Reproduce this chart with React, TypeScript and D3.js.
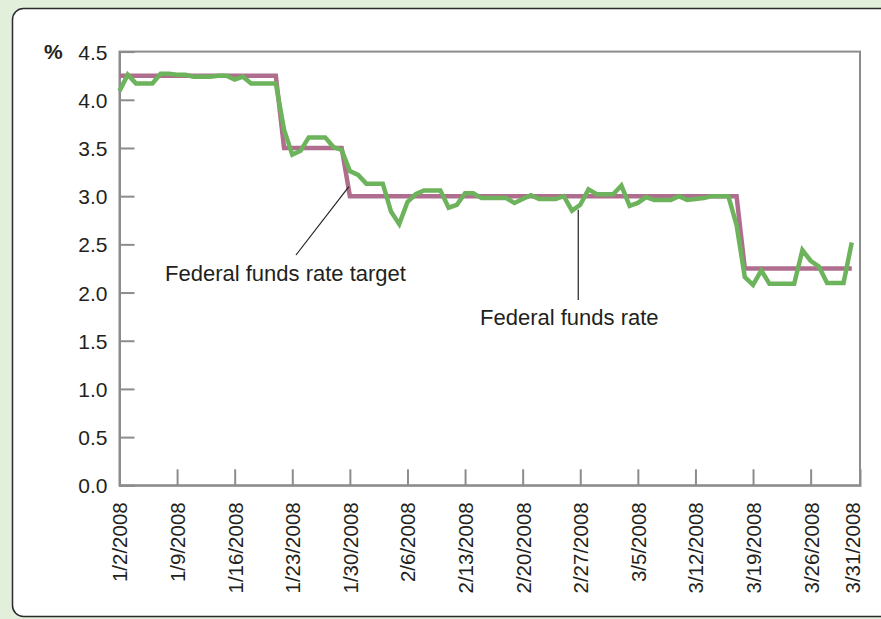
import React, { useEffect, useRef } from 'react';
import * as d3 from 'd3';

// effective federal funds rate, one value per calendar day from 1/2/2008 to 3/31/2008
const fedFundsRate: number[] = [
  // January 2..31
  4.09, 4.26, 4.17, 4.17, 4.17, 4.27, 4.27, 4.26, 4.26, 4.24,
  4.24, 4.24, 4.25, 4.25, 4.21, 4.24, 4.17, 4.17, 4.17, 4.17,
  3.69, 3.43, 3.47, 3.61, 3.61, 3.61, 3.51, 3.48, 3.26, 3.22,
  // February 1..29
  3.13, 3.13, 3.13, 2.84, 2.71, 2.94, 3.02, 3.06, 3.06, 3.06,
  2.88, 2.91, 3.03, 3.03, 2.98, 2.98, 2.98, 2.98, 2.93, 2.97,
  3.01, 2.97, 2.97, 2.97, 3.0, 2.85, 2.91, 3.07, 3.02,
  // March 1..31
  3.02, 3.02, 3.11, 2.9, 2.93, 2.99, 2.96, 2.96, 2.96, 3.0,
  2.96, 2.97, 2.98, 3.0, 3.0, 3.0, 2.7, 2.16, 2.08, 2.23,
  2.09, 2.09, 2.09, 2.09, 2.44, 2.33, 2.27, 2.1, 2.1, 2.1,
  2.52,
];

// target rate, at the days around each change
const targetDates = ['1/2/2008', '1/21/2008', '1/22/2008', '1/29/2008', '1/30/2008', '3/17/2008', '3/18/2008', '3/31/2008'];
const targetValues = [4.25, 4.25, 3.5, 3.5, 3.0, 3.0, 2.25, 2.25];

const xTickLabels = [
  '1/2/2008', '1/9/2008', '1/16/2008', '1/23/2008', '1/30/2008', '2/6/2008', '2/13/2008',
  '2/20/2008', '2/27/2008', '3/5/2008', '3/12/2008', '3/19/2008', '3/26/2008', '3/31/2008',
];
const yTicks = [0, 0.5, 1.0, 1.5, 2.0, 2.5, 3.0, 3.5, 4.0, 4.5];

const W = 881;
const H = 619;
const FONT = '"Liberation Sans", Arial, Helvetica, sans-serif';

const App: React.FC = () => {
  const svgRef = useRef<SVGSVGElement | null>(null);

  useEffect(() => {
    if (!svgRef.current) return;
    const svg = d3.select(svgRef.current);
    svg.selectAll('*').remove();

    const parse = d3.timeParse('%m/%d/%Y');
    const start = new Date(2008, 0, 2);
    const rateData = fedFundsRate.map((v, i) => ({ date: d3.timeDay.offset(start, i), value: v }));
    const targetData = targetDates.map((d, i) => ({ date: parse(d) as Date, value: targetValues[i] }));

    const x = d3.scaleTime().domain([start, new Date(2008, 3, 1)]).range([119.5, 860]);
    const y = d3.scaleLinear().domain([0, 4.5]).range([485.3, 51.6]);

    // page background + white panel
    svg.append('rect').attr('width', W).attr('height', H).attr('fill', '#e2efdb');
    svg
      .append('rect')
      .attr('x', 12.5)
      .attr('y', 8.5)
      .attr('width', 920)
      .attr('height', 608)
      .attr('rx', 11)
      .attr('fill', '#ffffff')
      .attr('stroke', '#2b2b2b')
      .attr('stroke-width', 1.5);

    const axisColor = '#8c8c8c';

    // plot frame (top + right)
    svg
      .append('rect')
      .attr('x', x.range()[0])
      .attr('y', y(4.5))
      .attr('width', x.range()[1] - x.range()[0])
      .attr('height', y(0) - y(4.5))
      .attr('fill', 'none')
      .attr('stroke', axisColor)
      .attr('stroke-width', 2);

    // y axis, ticks pointing inward
    svg
      .append('g')
      .attr('transform', `translate(${x.range()[0]},0)`)
      .call(d3.axisLeft(y).tickValues(yTicks).tickFormat(d3.format('.1f')).tickSize(-15).tickPadding(12))
      .call((g) => g.select('.domain').attr('stroke', axisColor).attr('stroke-width', 2))
      .call((g) => g.selectAll('.tick line').attr('stroke', axisColor).attr('stroke-width', 2))
      .call((g) =>
        g
          .selectAll('.tick text')
          .attr('fill', '#231f20')
          .attr('dy', '0.36em')
          .style('font-family', FONT)
          .style('font-size', '21px'),
      );

    // x axis, ticks pointing up, labels rotated
    const xTickDates = xTickLabels.map((d) => parse(d) as Date);
    const xAxis = svg
      .append('g')
      .attr('transform', `translate(0,${y(0)})`)
      .call(
        d3
          .axisBottom<Date>(x)
          .tickValues(xTickDates)
          .tickFormat((d, i) => xTickLabels[i])
          .tickSize(-16),
      );
    xAxis.select('.domain').attr('stroke', axisColor).attr('stroke-width', 2);
    xAxis.selectAll('.tick line').attr('stroke', axisColor).attr('stroke-width', 2);
    // no tick mark at 3/31 (sits against the frame)
    xAxis
      .selectAll<SVGGElement, Date>('.tick')
      .filter((d, i) => i === xTickLabels.length - 1)
      .select('line')
      .remove();
    xAxis
      .selectAll('.tick text')
      .attr('fill', '#231f20')
      .attr('x', -17)
      .attr('y', 0)
      .attr('dy', '0.36em')
      .attr('transform', 'rotate(-90)')
      .style('text-anchor', 'end')
      .style('font-family', FONT)
      .style('font-size', '20.5px');

    // % unit
    svg
      .append('text')
      .attr('x', 44)
      .attr('y', y(4.5))
      .attr('dy', '0.36em')
      .attr('fill', '#231f20')
      .style('font-family', FONT)
      .style('font-size', '21px')
      .style('font-weight', 'bold')
      .text('%');

    // target line
    const line = d3
      .line<{ date: Date; value: number }>()
      .x((d) => x(d.date))
      .y((d) => y(d.value));

    svg
      .append('path')
      .datum(targetData)
      .attr('fill', 'none')
      .attr('stroke', '#b06e8e')
      .attr('stroke-width', 4.5)
      .attr('stroke-linejoin', 'miter')
      .attr('d', line);

    // effective rate
    svg
      .append('path')
      .datum(rateData)
      .attr('fill', 'none')
      .attr('stroke', '#6cb35c')
      .attr('stroke-width', 4.5)
      .attr('stroke-linejoin', 'miter')
      .attr('d', line);

    // annotations
    const ann = svg.append('g').attr('stroke', '#231f20').attr('stroke-width', 1.2);
    ann
      .append('line')
      .attr('x1', x(parse('1/30/2008') as Date) - 1)
      .attr('y1', y(3.1))
      .attr('x2', 296)
      .attr('y2', 255);
    ann
      .append('line')
      .attr('x1', x(parse('2/27/2008') as Date) - 2)
      .attr('y1', y(2.86))
      .attr('x2', x(parse('2/27/2008') as Date) - 2)
      .attr('y2', 300);

    svg
      .append('text')
      .attr('x', 165)
      .attr('y', 281)
      .attr('fill', '#231f20')
      .style('font-family', FONT)
      .style('font-size', '22px')
      .text('Federal funds rate target');

    svg
      .append('text')
      .attr('x', 480)
      .attr('y', 325)
      .attr('fill', '#231f20')
      .style('font-family', FONT)
      .style('font-size', '22px')
      .text('Federal funds rate');
  }, []);

  return (
    <div style={{ position: 'absolute', left: 0, top: 0, width: W, height: H }}>
      <svg ref={svgRef} width={W} height={H} style={{ display: 'block' }}></svg>
    </div>
  );
};

export default App;
